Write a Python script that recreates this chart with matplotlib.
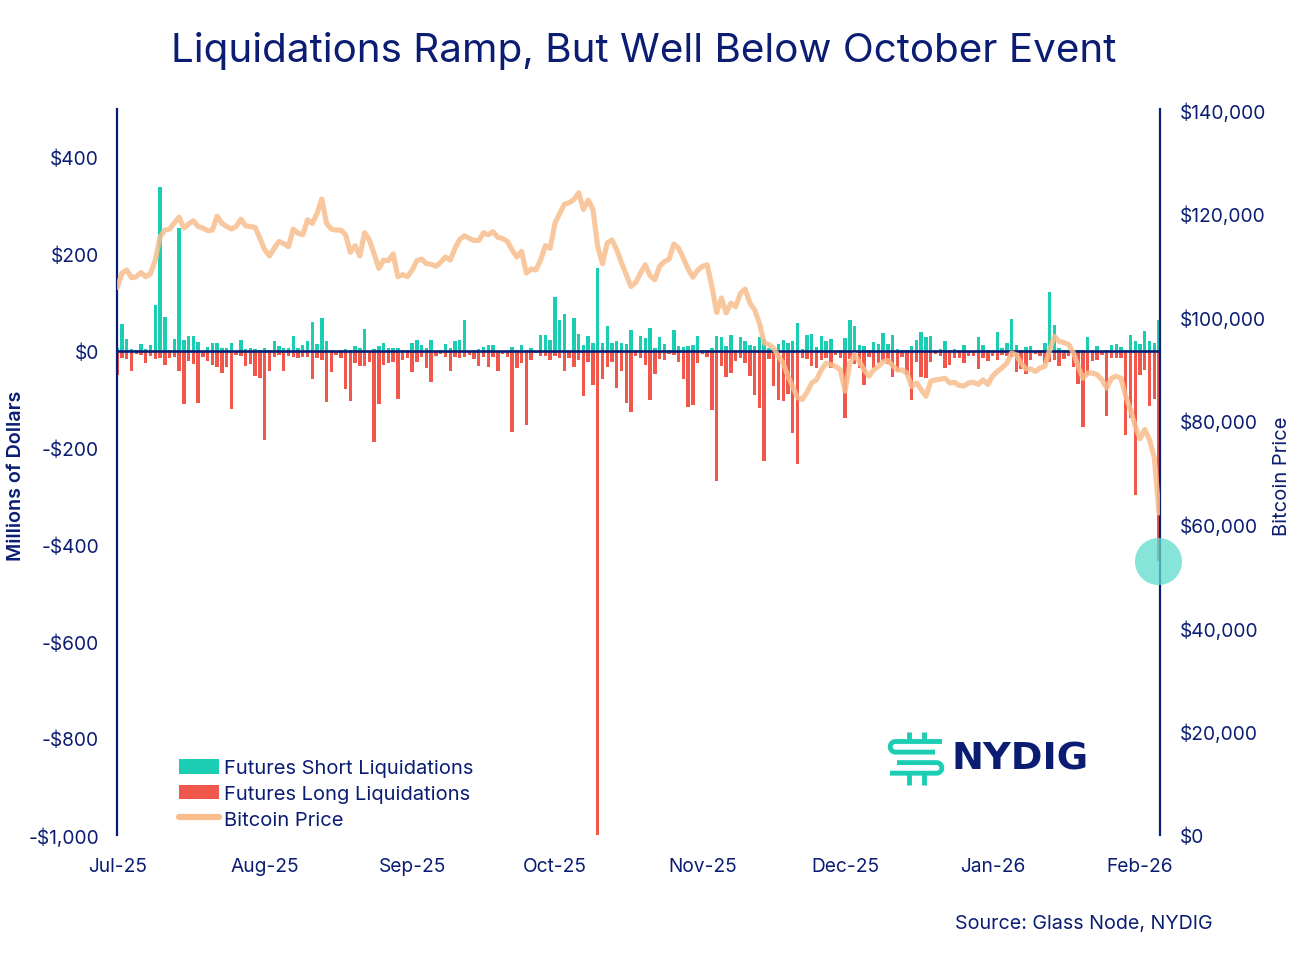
import numpy as np
import pandas as pd
import matplotlib
matplotlib.use("Agg")
import matplotlib.pyplot as plt
import matplotlib.dates as mdates
from matplotlib.patches import Patch
from matplotlib.lines import Line2D
from matplotlib.ticker import FixedLocator, FuncFormatter

plt.rcParams['font.family'] = ['Inter', 'DejaVu Sans']

# ---------------- data ----------------
start_date = "2025-07-01"
n_days = 220
dates = pd.date_range(start_date, periods=n_days, freq="D")

short_liq = [
    5, 56, 25, 3, 2, 14, 3, 11, 95, 337,
    69, 1, 25, 253, 23, 30, 30, 18, 0, 8,
    16, 16, 6, 6, 16, 0, 22, 4, 6, 3,
    2, 6, 2, 20, 9, 6, 6, 30, 6, 12,
    20, 59, 14, 67, 20, 2, 0, 1, 3, 1,
    10, 6, 44, 0, 3, 10, 16, 6, 6, 6,
    1, 2, 16, 21, 12, 6, 21, 0, 1, 14,
    6, 20, 21, 63, 0, 1, 4, 8, 12, 12,
    0, 0, 0, 8, 2, 12, 2, 6, 0, 33,
    32, 21, 111, 64, 76, 0, 68, 35, 11, 30,
    16, 171, 16, 51, 16, 20, 16, 14, 42, 1,
    30, 26, 47, 6, 28, 14, 1, 42, 10, 8,
    10, 12, 30, 1, 2, 6, 30, 28, 10, 33,
    1, 28, 20, 12, 10, 28, 25, 6, 4, 13,
    23, 16, 20, 58, 4, 33, 35, 8, 30, 19,
    25, 0, 2, 26, 64, 51, 12, 10, 1, 18,
    14, 37, 14, 33, 4, 1, 1, 10, 21, 38,
    28, 30, 1, 4, 20, 2, 3, 2, 12, 0,
    0, 28, 12, 2, 2, 38, 6, 16, 65, 11,
    2, 8, 10, 0, 2, 16, 121, 54, 6, 1,
    1, 0, 1, 1, 28, 1, 9, 0, 1, 12,
    14, 8, 1, 32, 20, 13, 41, 20, 16, 63,
]

long_liq = [
    -51, -15, -18, -42, -6, -8, -25, -12, -17, -15,
    -30, -16, -13, -42, -111, -21, -27, -108, -13, -21,
    -29, -34, -46, -34, -120, -8, -10, -32, -28, -52,
    -56, -185, -42, -13, -8, -42, -11, -13, -15, -13,
    -13, -58, -15, -20, -106, -45, -8, -16, -80, -104,
    -25, -32, -32, -23, -188, -111, -30, -25, -23, -99,
    -20, -16, -44, -23, -14, -36, -65, -10, -6, -13,
    -41, -13, -15, -13, -8, -18, -32, -13, -34, -13,
    -41, -6, -13, -168, -36, -25, -154, -20, -5, -10,
    -12, -20, -12, -16, -41, -15, -34, -20, -94, -23,
    -71, -1010, -58, -34, -23, -77, -42, -108, -126, -10,
    -15, -30, -101, -49, -18, -20, -6, -8, -23, -58,
    -116, -113, -25, -6, -13, -122, -269, -32, -54, -46,
    -21, -16, -25, -52, -92, -118, -227, -18, -73, -102,
    -104, -89, -170, -235, -15, -18, -32, -36, -20, -16,
    -35, -8, -16, -140, -18, -27, -36, -71, -13, -36,
    -25, -22, -27, -54, -41, -13, -51, -101, -23, -54,
    -56, -23, -6, -10, -35, -30, -16, -15, -25, -11,
    -10, -37, -15, -21, -10, -20, -8, -11, -13, -44,
    -37, -49, -20, -6, -10, -25, -23, -20, -32, -18,
    -10, -34, -69, -157, -51, -22, -20, -8, -135, -16,
    -15, -16, -174, -140, -298, -51, -39, -115, -99, -434,
]

btc_price_k = [
    105.7, 108.5, 109.1, 107.6, 107.8, 108.6, 107.8, 108.4, 111.0, 115.5,
    116.8, 117.0, 118.2, 119.3, 117.2, 118.0, 118.6, 117.5, 117.2, 116.7,
    116.8, 119.5, 118.1, 117.5, 117.0, 117.5, 118.9, 117.6, 117.5, 117.3,
    115.2, 113.0, 111.8, 113.3, 114.6, 114.2, 113.6, 117.0, 116.2, 115.9,
    118.8, 118.1, 120.0, 122.8, 118.1, 117.0, 116.8, 116.8, 115.9, 112.5,
    113.8, 111.8, 116.3, 114.9, 112.2, 109.4, 111.0, 110.9, 112.2, 107.8,
    108.2, 107.8, 109.1, 110.9, 111.2, 110.3, 110.2, 109.8, 110.6, 111.6,
    111.0, 113.3, 115.0, 115.7, 115.2, 114.8, 114.8, 116.3, 115.9, 116.5,
    115.4, 115.2, 114.6, 113.0, 111.6, 112.7, 108.5, 109.3, 109.1, 111.0,
    113.8, 113.3, 118.1, 120.0, 121.8, 122.1, 122.7, 124.0, 120.8, 122.6,
    120.8, 113.6, 110.3, 114.3, 114.9, 113.0, 110.5, 108.2, 105.9, 106.7,
    108.5, 110.1, 108.0, 107.2, 109.8, 110.7, 111.2, 114.1, 113.3, 111.4,
    109.3, 107.7, 109.0, 109.8, 110.1, 105.9, 100.9, 103.7, 100.8, 102.7,
    102.0, 104.6, 105.4, 102.7, 101.4, 98.8, 95.0, 94.7, 94.0, 92.4,
    91.1, 88.6, 86.5, 84.5, 84.1, 85.5, 87.3, 87.9, 89.8, 91.1,
    90.8, 90.5, 89.8, 85.7, 91.1, 92.7, 91.4, 89.8, 88.6, 89.8,
    90.5, 91.4, 91.6, 90.6, 89.8, 89.8, 89.2, 86.6, 87.3, 86.0,
    84.7, 87.6, 87.9, 88.0, 88.2, 87.3, 87.4, 86.8, 86.7, 87.3,
    87.4, 87.0, 87.9, 87.0, 88.6, 89.5, 90.2, 91.1, 93.1, 92.7,
    91.1, 90.0, 90.0, 89.5, 90.2, 90.5, 93.7, 96.3, 95.3, 95.1,
    94.7, 93.1, 90.5, 88.2, 89.2, 89.2, 88.9, 87.9, 86.3, 88.2,
    88.6, 88.2, 84.7, 82.1, 78.9, 76.5, 78.3, 76.3, 72.8, 62.2,
]

left_ticks = [-1000, -800, -600, -400, -200, 0, 200, 400]
right_ticks = [0, 20000, 40000, 60000, 80000, 100000, 120000, 140000]
month_ticks = pd.date_range("2025-07-01", "2026-02-01", freq="MS")
month_labels = [d.strftime("%b-%y") for d in month_ticks]

title = "Liquidations Ramp, But Well Below October Event"
highlight_value = -433

# ---------------- styles ----------------
NAVY = "#0B1D73"
TEAL = "#1BCDB3"
RED = "#F1574A"
ORANGE = "#F9BD8C"
CIRCLE = "#5FDCCB"
FS = 14.2

W, H = 1299, 962
fig = plt.figure(figsize=(W / 100, H / 100), dpi=100)

def fx(px):
    return px / W

def fy(py):
    return 1 - py / H

ax1 = fig.add_axes([fx(117), fy(836), fx(1160) - fx(117), fy(109.5) - fy(836)])
ax2 = ax1.twinx()

x = mdates.date2num(dates)
ax1.bar(x, short_liq, width=0.72, color=TEAL, zorder=2, linewidth=0)
ax1.bar(x, long_liq, width=0.72, color=RED, zorder=2, linewidth=0)
ax1.axhline(0, color=NAVY, lw=1.9, zorder=3)

ax2.plot(x, np.array(btc_price_k) * 1000, color=ORANGE, lw=3.7, alpha=0.85,
         solid_joinstyle="round", solid_capstyle="round", zorder=4)

# highlight circle on last day
ax2.scatter([x[-1] - 0.2], [(highlight_value + 1000) / 1500 * 140000], s=1150,
            color=CIRCLE, alpha=0.75, zorder=6, clip_on=False, linewidths=0)

x0 = mdates.date2num(pd.Timestamp(start_date))
ax1.set_xlim(x0 - 0.05, x0 + 219.2)
ax1.set_ylim(-1000, 500)
ax2.set_ylim(0, 140000 * 1500 / 1497)

ax1.yaxis.set_major_locator(FixedLocator(left_ticks))
ax1.yaxis.set_major_formatter(FuncFormatter(
    lambda v, p: ("-" if v < 0 else "") + "${:,.0f}".format(abs(v))))
ax2.yaxis.set_major_locator(FixedLocator(right_ticks))
ax2.yaxis.set_major_formatter(FuncFormatter(lambda v, p: "${:,.0f}".format(v)))

ax1.set_xticks(mdates.date2num(month_ticks))
ax1.set_xticklabels(month_labels)

for ax in (ax1, ax2):
    for s in ("top", "bottom"):
        ax.spines[s].set_visible(False)
    ax.tick_params(length=0, colors=NAVY, labelsize=13.8)
ax1.spines["right"].set_visible(False)
ax2.spines["left"].set_visible(False)
ax1.spines["left"].set_color(NAVY)
ax1.spines["left"].set_linewidth(1.6)
ax2.spines["right"].set_color(NAVY)
ax2.spines["right"].set_linewidth(1.6)
ax1.tick_params(axis="y", pad=13)
ax2.tick_params(axis="y", pad=14)
ax1.tick_params(axis="x", pad=16)

fig.text(fx(16), fy(476), "Millions of Dollars", rotation=90, color=NAVY,
         fontsize=FS, fontweight="semibold", ha="center", va="center")
fig.text(fx(1282), fy(476), "Bitcoin Price", rotation=90, color=NAVY,
         fontsize=FS + 0.3, ha="center", va="center")

for ax in (ax1, ax2):
    ax.set_facecolor("none")
ax1.set_zorder(1)
ax2.set_zorder(2)

# title
fig.text(fx(644), fy(51), title, ha="center", va="center", color=NAVY, fontsize=29.1)

# legend
handles = [
    Patch(facecolor=TEAL, edgecolor="none", label="Futures Short Liquidations"),
    Patch(facecolor=RED, edgecolor="none", label="Futures Long Liquidations"),
    Line2D([0], [0], color=ORANGE, lw=4.5, solid_capstyle="round", label="Bitcoin Price"),
]
leg = fig.legend(handles=handles, loc="upper left",
                 bbox_to_anchor=(fx(179), fy(760)), frameon=False, fontsize=FS + 0.3,
                 handlelength=2.0, handleheight=0.75, handletextpad=0.25,
                 labelspacing=0.36, borderpad=0, borderaxespad=0)
for t in leg.get_texts():
    t.set_color(NAVY)

# source
fig.text(fx(1213), fy(924), "Source: Glass Node, NYDIG", ha="right", va="center",
         color=NAVY, fontsize=FS)

# NYDIG logo
def seg(xs, ys, lw=3.5):
    fig.add_artist(Line2D([fx(v) for v in xs], [fy(v) for v in ys], color=TEAL, lw=lw,
                          solid_capstyle="butt", solid_joinstyle="round",
                          transform=fig.transFigure))

r = 5.3
t = np.linspace(np.pi / 2, 3 * np.pi / 2, 24)
# upper "C": top line, left curve, second line
xs = [942, 895.5] + list(895.5 + r * np.cos(t)) + [895.5, 935]
ys = [742.5, 742.5] + list(747.8 - r * np.sin(t)) + [753.1, 753.1]
seg(xs, ys)
# lower reversed "C": third line, right curve, bottom line
t2 = np.linspace(np.pi / 2, -np.pi / 2, 24)
xs = [897, 936.5] + list(936.5 + r * np.cos(t2)) + [936.5, 890]
ys = [763.6, 763.6] + list(768.9 - r * np.sin(t2)) + [774.2, 774.2]
seg(xs, ys)
# vertical stubs
seg([908.5, 908.5], [733, 742.5])
seg([923.5, 923.5], [733, 742.5])
seg([908.5, 908.5], [774.2, 786])
seg([923.5, 923.5], [774.2, 786])
fig.text(fx(952), fy(760), "NYDIG", ha="left", va="center", color=NAVY,
         fontsize=27.5, fontweight="bold", family="DejaVu Sans")

fig.savefig("out.png", dpi=100, facecolor="white")
